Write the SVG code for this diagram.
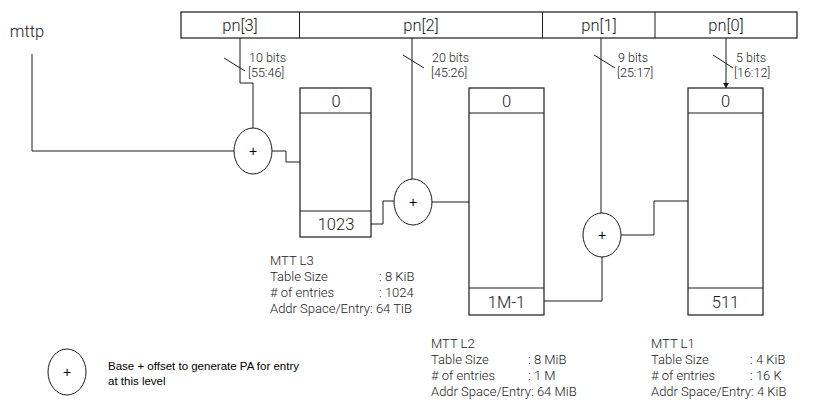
<svg xmlns="http://www.w3.org/2000/svg" width="815" height="417" viewBox="0 0 815 417">
<style>
.ln{fill:none;stroke:#1a1a1a;stroke-width:1}
.bx{fill:#fff;stroke:#1a1a1a;stroke-width:1.2}
.op{fill:#fff;stroke:#1a1a1a;stroke-width:1}
.big{font-family:Roboto,"Liberation Sans",sans-serif;font-weight:300;font-size:16.5px;fill:#1a1a1a;text-anchor:middle}
.sm{font-family:Roboto,"Liberation Sans",sans-serif;font-weight:300;font-size:12.5px;fill:#1a1a1a}
.inf{font-family:Roboto,"Liberation Sans",sans-serif;font-weight:300;font-size:13px;fill:#1a1a1a}
.plus{font-family:"Liberation Sans",Arial,sans-serif;font-size:14px;fill:#000;text-anchor:middle}
.leg{font-family:"Liberation Sans",Arial,sans-serif;font-size:11.5px;fill:#000}
</style>
<defs>
<marker id="arr" markerWidth="6" markerHeight="6" refX="5" refY="3" orient="auto" markerUnits="userSpaceOnUse">
<path d="M0,0 L5,3 L0,6 z" fill="#1a1a1a"/>
</marker>
</defs>
<rect width="815" height="417" fill="#fff"/>

<g id="connectors">
<path class="ln" d="M32,54 V151 H234"/>
<path class="ln" d="M240,38 V83 H253 V128"/>
<line class="ln" x1="224" y1="58" x2="245" y2="71"/>
<path class="ln" d="M272,151 H286 V162 H300"/>
<path class="ln" d="M371,224 H383 V201 H394"/>
<path class="ln" d="M412,38 V179"/>
<line class="ln" x1="403" y1="55" x2="424" y2="68"/>
<path class="ln" d="M432,202 H469"/>
<path class="ln" d="M544,301 H602 V257"/>
<path class="ln" d="M601,38 V213"/>
<line class="ln" x1="594" y1="55" x2="615" y2="68"/>
<path class="ln" d="M621,235 H654 V201 H688"/>
<line class="ln" x1="726" y1="38" x2="726" y2="88" marker-end="url(#arr)"/>
<line class="ln" x1="713" y1="55" x2="733" y2="68"/>
</g>

<g id="pn-bar">
<rect class="bx" x="181" y="12" width="616" height="26"/>
<line class="ln" x1="299.5" y1="12" x2="299.5" y2="38"/>
<line class="ln" x1="542.5" y1="12" x2="542.5" y2="38"/>
<line class="ln" x1="655" y1="12" x2="655" y2="38"/>
<text class="big" x="240" y="31">pn[3]</text>
<text class="big" x="421" y="31">pn[2]</text>
<text class="big" x="599" y="31">pn[1]</text>
<text class="big" x="726" y="31">pn[0]</text>
</g>

<g id="mttp"><text class="big" x="27" y="37">mttp</text></g>

<g id="bit-labels" class="sm">
<text x="249" y="62">10 bits</text><text x="248" y="77">[55:46]</text>
<text x="432" y="62">20 bits</text><text x="431" y="77">[45:26]</text>
<text x="618" y="62">9 bits</text><text x="617" y="77">[25:17]</text>
<text x="736" y="62">5 bits</text><text x="734" y="77">[16:12]</text>
</g>

<g id="add1"><ellipse class="op" cx="253" cy="151" rx="19" ry="23"/><text class="plus" x="253" y="156">+</text></g>
<g id="add2"><ellipse class="op" cx="413" cy="202" rx="19" ry="23"/><text class="plus" x="413" y="207">+</text></g>
<g id="add3"><ellipse class="op" cx="602" cy="235" rx="19" ry="22"/><text class="plus" x="602" y="240">+</text></g>

<g id="mtt-l3">
<rect class="bx" x="300" y="88" width="71" height="149"/>
<line class="ln" x1="300" y1="113" x2="371" y2="113"/>
<line class="ln" x1="300" y1="211" x2="371" y2="211"/>
<text class="big" x="336" y="107">0</text>
<text class="big" x="336" y="230">1023</text>
</g>

<g id="mtt-l2">
<rect class="bx" x="469" y="88" width="75" height="227"/>
<line class="ln" x1="469" y1="113" x2="544" y2="113"/>
<line class="ln" x1="469" y1="288" x2="544" y2="288"/>
<text class="big" x="506.5" y="107">0</text>
<text class="big" x="506.5" y="308">1M-1</text>
</g>

<g id="mtt-l1">
<rect class="bx" x="688" y="88" width="75" height="227"/>
<line class="ln" x1="688" y1="113" x2="763" y2="113"/>
<line class="ln" x1="688" y1="288" x2="763" y2="288"/>
<text class="big" x="725.5" y="107">0</text>
<text class="big" x="725.5" y="308">511</text>
</g>

<g id="info-l3" class="inf">
<text x="270" y="265">MTT L3</text>
<text x="270" y="281">Table Size</text><text x="379" y="281">: 8 KiB</text>
<text x="270" y="297"># of entries</text><text x="379" y="297">: 1024</text>
<text x="270" y="313">Addr Space/Entry: 64 TiB</text>
</g>

<g id="info-l2" class="inf">
<text x="431" y="348">MTT L2</text>
<text x="431" y="364">Table Size</text><text x="528" y="364">: 8 MiB</text>
<text x="431" y="380"># of entries</text><text x="528" y="380">: 1 M</text>
<text x="431" y="396">Addr Space/Entry: 64 MiB</text>
</g>

<g id="info-l1" class="inf">
<text x="651" y="348">MTT L1</text>
<text x="651" y="364">Table Size</text><text x="750" y="364">: 4 KiB</text>
<text x="651" y="380"># of entries</text><text x="750" y="380">: 16 K</text>
<text x="651" y="396">Addr Space/Entry: 4 KiB</text>
</g>

<g id="legend">
<ellipse class="op" cx="67" cy="372" rx="19" ry="23"/>
<text class="plus" x="67" y="377">+</text>
<text class="leg" x="108" y="370">Base + offset to generate PA for entry</text>
<text class="leg" x="108" y="385">at this level</text>
</g>
</svg>
